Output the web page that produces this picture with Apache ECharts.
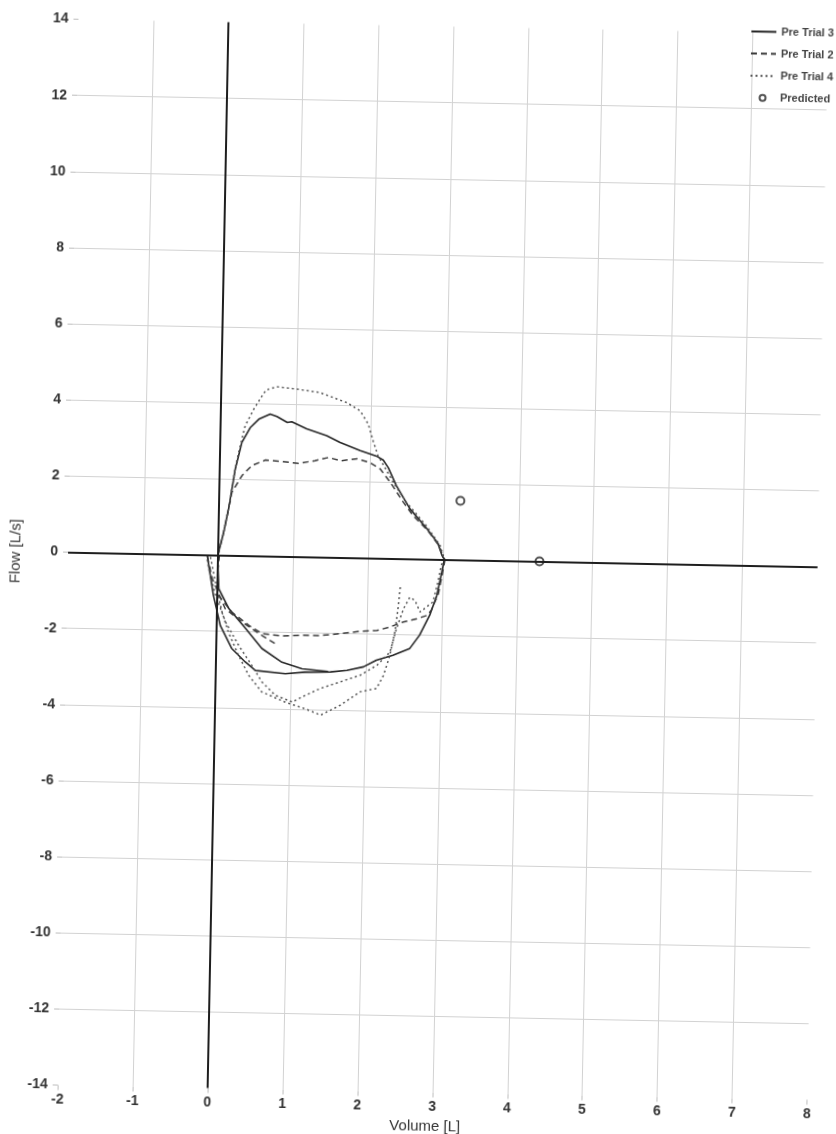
<!DOCTYPE html>
<html>
<head>
<meta charset="utf-8">
<script src="https://cdn.jsdelivr.net/npm/echarts@6/dist/echarts.min.js"></script>
<style>
html,body{margin:0;padding:0;background:#fff;overflow:hidden;width:836px;height:1134px;}
#wrap{position:absolute;left:0;top:0;width:836px;height:1134px;transform:rotate(1.12deg);transform-origin:443px 559px;}
#chart{width:836px;height:1134px;}
</style>
</head>
<body>
<div id="wrap"><div id="chart"></div></div>
<script>
// ---- data (Volume [L], Flow [L/s]) ----
const volumeRange = [-2, 8];
const flowRange = [-14, 14];
const seriesNames = ['Pre Trial 3', 'Pre Trial 2', 'Pre Trial 4', 'Predicted'];

const trial3Exp = [[0.0,0.0],[0.07,0.6],[0.13,1.22],[0.21,2.28],[0.29,2.97],[0.40,3.37],[0.51,3.59],[0.66,3.73],[0.75,3.67],[0.89,3.52],[0.95,3.54],[1.15,3.36],[1.42,3.19],[1.60,3.02],[1.87,2.82],[2.10,2.67],[2.18,2.58],[2.25,2.38],[2.36,1.92],[2.55,1.31],[2.78,0.80],[2.93,0.43],[2.99,0.10],[3.02,0.0]];
const trial3InspA = [[3.02,0.0],[2.99,-0.33],[2.93,-0.95],[2.84,-1.47],[2.71,-2.0],[2.58,-2.36],[2.36,-2.54],[2.14,-2.68],[1.97,-2.86],[1.75,-2.96],[1.53,-3.01],[1.19,-3.03],[0.93,-3.08],[0.53,-3.01],[0.39,-2.79],[0.21,-2.45],[0.05,-1.85],[-0.05,-1.06],[-0.12,-0.28],[-0.14,-0.04]];
const trial3InspB = [[0.0,-0.2],[0.02,-0.88],[0.16,-1.40],[0.39,-1.92],[0.61,-2.43],[0.88,-2.78],[1.15,-2.94],[1.5,-3.0]];

const trial2Exp = [[0.0,0.0],[0.07,0.6],[0.13,1.22],[0.17,1.66],[0.30,2.10],[0.43,2.37],[0.61,2.52],[0.83,2.49],[1.05,2.45],[1.27,2.53],[1.45,2.62],[1.61,2.54],[1.83,2.60],[2.0,2.51],[2.14,2.35],[2.28,2.0],[2.46,1.48],[2.60,1.12],[2.79,0.76],[2.94,0.38],[3.01,0.05],[3.03,0.0]];
const trial2InspA = [[3.03,0.0],[3.0,-0.35],[2.95,-0.9],[2.86,-1.34],[2.80,-1.48],[2.67,-1.57],[2.49,-1.66],[2.31,-1.80],[2.14,-1.90],[1.91,-1.93],[1.65,-2.0],[1.38,-2.06],[1.18,-2.06],[0.88,-2.09],[0.61,-2.04],[0.43,-1.83],[0.20,-1.49],[0.02,-1.06],[0.0,-0.5],[0.02,0.0]];
const trial2InspB = [[-0.14,-0.04],[-0.07,-0.62],[0.11,-1.40],[0.34,-1.75],[0.61,-2.09],[0.79,-2.30]];

const trial4Exp = [[0.0,0.0],[0.07,0.6],[0.13,1.22],[0.20,2.2],[0.25,2.71],[0.33,3.41],[0.44,3.85],[0.55,4.21],[0.60,4.36],[0.74,4.45],[1.01,4.40],[1.32,4.32],[1.68,4.07],[1.86,3.86],[1.97,3.52],[2.04,3.08],[2.11,2.69],[2.32,2.0],[2.50,1.48],[2.77,0.88],[2.96,0.37],[3.02,0.02]];
const trial4InspA = [[3.02,0.02],[2.98,-0.16],[2.94,-0.60],[2.88,-1.12],[2.71,-1.39],[2.64,-1.09],[2.57,-1.01],[2.49,-1.31],[2.40,-1.84],[2.32,-2.46],[2.15,-2.81],[1.93,-3.08],[1.66,-3.27],[1.40,-3.45],[1.16,-3.68],[1.03,-3.82],[0.80,-3.65],[0.62,-3.31],[0.48,-2.88],[0.30,-2.36],[0.12,-1.76],[-0.02,-1.06],[-0.12,-0.36],[-0.15,-0.05]];
const trial4InspB = [[2.44,-0.75],[2.42,-1.23],[2.38,-1.93],[2.32,-2.54],[2.24,-3.07],[2.15,-3.42],[1.93,-3.52],[1.67,-3.88],[1.41,-4.15],[1.20,-3.99],[0.94,-3.83],[0.62,-3.57],[0.44,-3.14],[0.30,-2.62],[0.16,-2.02],[0.07,-1.50],[0.0,-0.95],[-0.06,-0.42],[-0.10,-0.05]];

const predicted = [[3.22,1.55],[4.29,0.0]];

// ---- chart ----
const FONT = "'Liberation Sans', Arial, sans-serif";
const lineStyles = {
  'Pre Trial 3': {color:'#262626', width:1.6, type:'solid'},
  'Pre Trial 2': {color:'#3a3a3a', width:1.5, type:[6,4]},
  'Pre Trial 4': {color:'#555555', width:1.5, type:[2,3]}
};
function lineSeries(name, data, extra) {
  return Object.assign({
    name: name, type: 'line', data: data, symbol: 'none', showSymbol: false, smooth: false,
    lineStyle: lineStyles[name], itemStyle: {color: lineStyles[name].color},
    z: 3, silent: true
  }, extra || {});
}
const chart = echarts.init(document.getElementById('chart'), null, {renderer:'canvas'});
const axisCommon = {
  type: 'value',
  axisLine: {show: false, onZero: false},
  axisTick: {show: true, length: 5, lineStyle: {color: '#bdbdbd'}},
  axisLabel: {fontFamily: FONT, fontSize: 14, fontWeight: 'bold', color: '#333'},
  splitLine: {show: true, showMinLine: false, showMaxLine: false, lineStyle: {color: '#d2d2d2', width: 1}},
  nameLocation: 'middle',
  nameTextStyle: {fontFamily: FONT, fontSize: 15, color: '#333'}
};
chart.setOption({
  animation: false,
  backgroundColor: '#fff',
  grid: {left: 68, right: 18.4, top: 26.5, bottom: 41.5, containLabel: false, outerBoundsMode: 'none'},
  legend: {
    orient: 'vertical', left: 735, top: 15,
    itemWidth: 25, itemHeight: 6, itemGap: 11.1, itemTextGap: 3,
    textStyle: {fontFamily: FONT, fontSize: 11, fontWeight: 'bold', color: '#444'},
    data: [
      {name: seriesNames[0], itemStyle: {opacity: 0}},
      {name: seriesNames[1], itemStyle: {opacity: 0}},
      {name: seriesNames[2], itemStyle: {opacity: 0}},
      {name: seriesNames[3]}
    ]
  },
  xAxis: Object.assign({}, axisCommon, {
    min: volumeRange[0], max: volumeRange[1], interval: 1,
    name: 'Volume [L]', nameGap: 25,
    nameTextStyle: Object.assign({}, axisCommon.nameTextStyle, {padding: [0, 14, 0, 0]}),
    axisLabel: Object.assign({}, axisCommon.axisLabel, {margin: 8})
  }),
  yAxis: Object.assign({}, axisCommon, {
    min: flowRange[0], max: flowRange[1], interval: 2,
    name: 'Flow [L/s]', nameGap: 45,
    axisLabel: Object.assign({}, axisCommon.axisLabel, {margin: 10})
  }),
  series: [
    lineSeries('Pre Trial 3', trial3Exp, {
      markLine: {
        silent: true, symbol: ['none','none'], label: {show: false},
        lineStyle: {color: '#1e1e1e', width: 2, type: 'solid'},
        emphasis: {disabled: true},
        data: [{xAxis: 0}, {yAxis: 0}]
      }
    }),
    lineSeries('Pre Trial 3', trial3InspA),
    lineSeries('Pre Trial 3', trial3InspB),
    lineSeries('Pre Trial 2', trial2Exp),
    lineSeries('Pre Trial 2', trial2InspA),
    lineSeries('Pre Trial 2', trial2InspB),
    lineSeries('Pre Trial 4', trial4Exp),
    lineSeries('Pre Trial 4', trial4InspA),
    lineSeries('Pre Trial 4', trial4InspB),
    {
      name: 'Predicted', type: 'scatter', data: predicted,
      symbol: 'emptyCircle', symbolSize: 8,
      itemStyle: {color: '#2b2b2b', borderColor: '#2b2b2b', borderWidth: 2.2},
      z: 4, silent: true
    }
  ]
});
</script>
</body>
</html>
